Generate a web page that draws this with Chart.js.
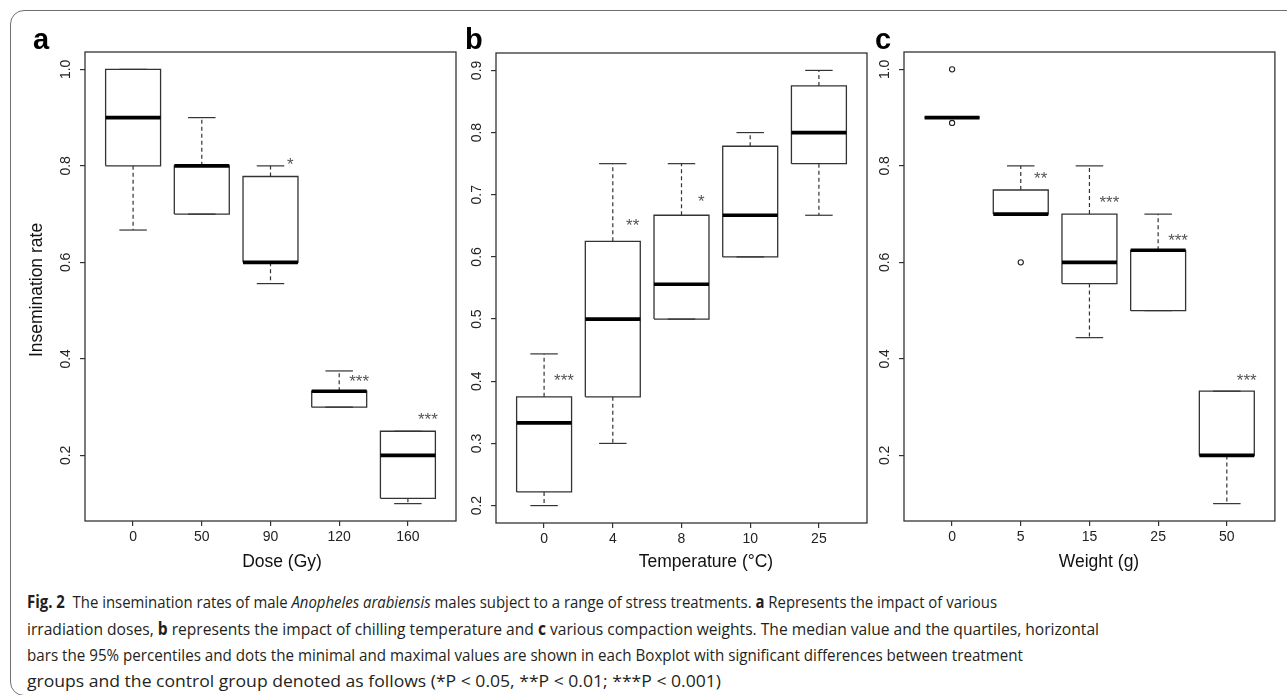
<!DOCTYPE html>
<html><head><meta charset="utf-8">
<script src="https://cdn.jsdelivr.net/npm/chart.js@4.4.0/dist/chart.umd.min.js"></script>
<style>
html,body{margin:0;padding:0;background:#fff;}
body{width:1287px;height:695px;position:relative;overflow:hidden;}
#frame{position:absolute;left:10px;top:10px;width:1300px;height:686px;border:1.5px solid #6f6f6f;border-radius:14px;box-sizing:border-box;}
canvas{position:absolute;top:0;}
.cap{position:absolute;left:27px;white-space:nowrap;font-family:"Open Sans","Noto Sans",sans-serif;font-size:17px;line-height:20px;color:#231f20;transform-origin:0 50%;}
.cap b{font-weight:700;}
</style></head>
<body>
<div id="frame"></div>
<div class="cap" id="l1" data-w="970"><b>Fig. 2</b>&nbsp; The insemination rates of male <i>Anopheles arabiensis</i> males subject to a range of stress treatments. <b>a</b> Represents the impact of various</div>
<div class="cap" id="l2" data-w="1072">irradiation doses, <b>b</b> represents the impact of chilling temperature and <b>c</b> various compaction weights. The median value and the quartiles, horizontal</div>
<div class="cap" id="l3" data-w="996">bars the 95% percentiles and dots the minimal and maximal values are shown in each Boxplot with significant differences between treatment</div>
<div class="cap" id="l4" data-w="694">groups and the control group denoted as follows (*P &lt; 0.05, **P &lt; 0.01; ***P &lt; 0.001)</div>
<script>
// ---- Panel a: irradiation dose ----
const doseLabels = ['0', '50', '90', '120', '160'];
const doseQ1   = [0.8, 0.7, 0.6, 0.3, 0.111];
const doseMed  = [0.9, 0.8, 0.6, 0.333, 0.2];
const doseQ3   = [1.0, 0.8, 0.778, 0.333, 0.25];
const doseLow  = [0.667, 0.7, 0.556, 0.3, 0.1];
const doseHigh = [1.0, 0.9, 0.8, 0.375, 0.25];
const doseOut  = [[], [], [], [], []];
const doseSig  = ['', '', '*', '***', '***'];
const doseSigY = [null, null, 0.81, 0.36, 0.28];
const doseYTicks = [0.2, 0.4, 0.6, 0.8, 1.0];

// ---- Panel b: chilling temperature ----
const tempLabels = ['0', '4', '8', '10', '25'];
const tempQ1   = [0.222, 0.375, 0.5, 0.6, 0.75];
const tempMed  = [0.333, 0.5, 0.556, 0.667, 0.8];
const tempQ3   = [0.375, 0.625, 0.667, 0.778, 0.875];
const tempLow  = [0.2, 0.3, 0.5, 0.6, 0.667];
const tempHigh = [0.444, 0.75, 0.75, 0.8, 0.9];
const tempOut  = [[], [], [], [], []];
const tempSig  = ['***', '**', '*', '', ''];
const tempSigY = [0.406, 0.656, 0.695, null, null];
const tempYTicks = [0.2, 0.3, 0.4, 0.5, 0.6, 0.7, 0.8, 0.9];

// ---- Panel c: compaction weight ----
const weightLabels = ['0', '5', '15', '25', '50'];
const weightQ1   = [0.9, 0.7, 0.556, 0.5, 0.2];
const weightMed  = [0.9, 0.7, 0.6, 0.625, 0.2];
const weightQ3   = [0.9, 0.75, 0.7, 0.625, 0.333];
const weightLow  = [0.9, 0.7, 0.444, 0.5, 0.1];
const weightHigh = [0.9, 0.8, 0.8, 0.7, 0.333];
const weightOut  = [[1.0, 0.889], [0.6], [], [], []];
const weightSig  = ['', '**', '***', '***', '***'];
const weightSigY = [null, 0.78, 0.73, 0.652, 0.362];
const weightYTicks = [0.2, 0.4, 0.6, 0.8, 1.0];

const FONT = '"Liberation Sans", Arial, Helvetica, sans-serif';
const PADL = 80, PADR = 4, H = 590;

const panels = [
  {area:{l:85,t:52,r:456,b:521}, labels:doseLabels, q1:doseQ1, med:doseMed, q3:doseQ3, low:doseLow, high:doseHigh, out:doseOut,
   sig:doseSig, sigY:doseSigY, yTicks:doseYTicks, letter:'a', letterX:33, xTitle:'Dose (Gy)', xTitleX:282, yTitle:'Insemination rate'},
  {area:{l:496,t:53,r:867,b:523}, labels:tempLabels, q1:tempQ1, med:tempMed, q3:tempQ3, low:tempLow, high:tempHigh, out:tempOut,
   sig:tempSig, sigY:tempSigY, yTicks:tempYTicks, letter:'b', letterX:465, xTitle:'Temperature (°C)', xTitleX:706, yTitle:null},
  {area:{l:904,t:52,r:1276,b:521}, labels:weightLabels, q1:weightQ1, med:weightMed, q3:weightQ3, low:weightLow, high:weightHigh, out:weightOut,
   sig:weightSig, sigY:weightSigY, yTicks:weightYTicks, letter:'c', letterX:875, xTitle:'Weight (g)', xTitleX:1099, yTitle:null}
];

function boxDatasets(p){
  const ds = [];
  const hw = 0.4, cw = 0.2;
  p.q1.forEach((_, i) => {
    const x = i + 1;
    const base = {type:'scatter', showLine:true, pointRadius:0, backgroundColor:'rgba(0,0,0,0)', tension:0, borderJoinStyle:'miter'};
    ds.push(Object.assign({}, base, {order:2, borderColor:'#333', borderWidth:1.3,
      data:[{x:x-hw,y:p.q1[i]},{x:x+hw,y:p.q1[i]},{x:x+hw,y:p.q3[i]},{x:x-hw,y:p.q3[i]},{x:x-hw,y:p.q1[i]}]}));
    if (p.high[i] > p.q3[i]) ds.push(Object.assign({}, base, {order:3, borderColor:'#333', borderWidth:1.2, borderDash:[4,3],
      data:[{x:x,y:p.q3[i]},{x:x,y:p.high[i]}]}));
    if (p.low[i] < p.q1[i]) ds.push(Object.assign({}, base, {order:3, borderColor:'#333', borderWidth:1.2, borderDash:[4,3],
      data:[{x:x,y:p.q1[i]},{x:x,y:p.low[i]}]}));
    ds.push(Object.assign({}, base, {order:3, borderColor:'#333', borderWidth:1.2, data:[{x:x-cw,y:p.high[i]},{x:x+cw,y:p.high[i]}]}));
    ds.push(Object.assign({}, base, {order:3, borderColor:'#333', borderWidth:1.2, data:[{x:x-cw,y:p.low[i]},{x:x+cw,y:p.low[i]}]}));
    ds.push(Object.assign({}, base, {order:0, borderColor:'#000', borderWidth:3.6, borderCapStyle:'butt',
      data:[{x:x-hw,y:p.med[i]},{x:x+hw,y:p.med[i]}]}));
    if (p.out[i].length) ds.push({type:'scatter', order:0, showLine:false, pointRadius:2.6, pointStyle:'circle',
      borderColor:'#222', borderWidth:1.1, backgroundColor:'#fff', data:p.out[i].map(v => ({x:x, y:v}))});
  });
  return ds;
}

function makePanel(p){
  const W = p.area.r - p.area.l + PADL + PADR;
  const left = p.area.l - PADL;
  const cv = document.createElement('canvas');
  cv.width = W; cv.height = H;
  cv.style.left = left + 'px';
  cv.style.width = W + 'px'; cv.style.height = H + 'px';
  document.body.appendChild(cv);
  const all = p.low.concat(p.high, ...p.out);
  const lo = Math.min(...all), hi = Math.max(...all), ext = (hi - lo) * 0.04;
  const grid = {display:true, drawOnChartArea:false, drawTicks:true, tickLength:5, color:'#333', lineWidth:1.2};
  const deco = {
    id:'deco',
    afterDatasetsDraw(chart){
      const ctx = chart.ctx, ca = chart.chartArea, ys = chart.scales.y, xs = chart.scales.x;
      ctx.save();
      ctx.strokeStyle = '#333'; ctx.lineWidth = 1.3;
      ctx.strokeRect(ca.left, ca.top, ca.right - ca.left, ca.bottom - ca.top);
      ctx.fillStyle = '#222';
      ctx.font = '14px ' + FONT;
      ctx.textAlign = 'center'; ctx.textBaseline = 'middle';
      ys.ticks.forEach(t => {
        const y = ys.getPixelForValue(t.value);
        ctx.save(); ctx.translate(ca.left - 18.5, y); ctx.rotate(-Math.PI/2);
        ctx.fillText(t.value.toFixed(1), 0, 0); ctx.restore();
      });
      ctx.font = '17.5px ' + FONT;
      ctx.fillStyle = '#111';
      ctx.fillText(p.xTitle, p.xTitleX - left, 562);
      if (p.yTitle){
        ctx.save(); ctx.translate(37 - left, 290); ctx.rotate(-Math.PI/2);
        ctx.fillText(p.yTitle, 0, 0); ctx.restore();
      }
      ctx.font = 'bold 29px ' + FONT;
      ctx.textAlign = 'left'; ctx.textBaseline = 'alphabetic';
      ctx.fillStyle = '#000';
      ctx.fillText(p.letter, p.letterX - left, 49);
      ctx.font = '17px ' + FONT;
      ctx.fillStyle = '#555';
      ctx.textAlign = 'center'; ctx.textBaseline = 'middle';
      p.sig.forEach((s, i) => {
        if (!s) return;
        ctx.fillText(s, xs.getPixelForValue(i + 1.29), ys.getPixelForValue(p.sigY[i]) + 4);
      });
      ctx.restore();
    }
  };
  new Chart(cv, {
    type:'scatter',
    data:{datasets: boxDatasets(p)},
    options:{
      responsive:false, animation:false, events:[],
      layout:{padding:{top:p.area.t, left:0, right:PADR, bottom:0}},
      plugins:{legend:{display:false}, tooltip:{enabled:false}},
      scales:{
        x:{type:'linear', min:0.3, max:5.7, offset:false,
           afterBuildTicks:s => { s.ticks = p.labels.map((_, i) => ({value:i + 1})); },
           afterFit:s => { s.height = H - p.area.b; },
           ticks:{callback:(v) => p.labels[Math.round(v) - 1], font:{family:FONT, size:14}, color:'#222', padding:3, maxRotation:0, minRotation:0, autoSkip:false},
           grid:grid, border:{display:false}},
        y:{type:'linear', min:lo - ext, max:hi + ext,
           afterBuildTicks:s => { s.ticks = p.yTicks.map(v => ({value:v})); },
           afterFit:s => { s.width = PADL; },
           ticks:{display:false},
           grid:grid, border:{display:false}}
      }
    },
    plugins:[deco]
  });
}
panels.forEach(makePanel);

// caption lines, each fitted to the width it has in the reference
const capTops = [592, 618.5, 645, 671];
['l1','l2','l3','l4'].forEach((id, k) => {
  const el = document.getElementById(id);
  el.style.top = capTops[k] + 'px';
  const w = el.getBoundingClientRect().width;
  el.style.transform = 'scaleX(' + (parseFloat(el.dataset.w) / w) + ')';
});
</script>
</body></html>
